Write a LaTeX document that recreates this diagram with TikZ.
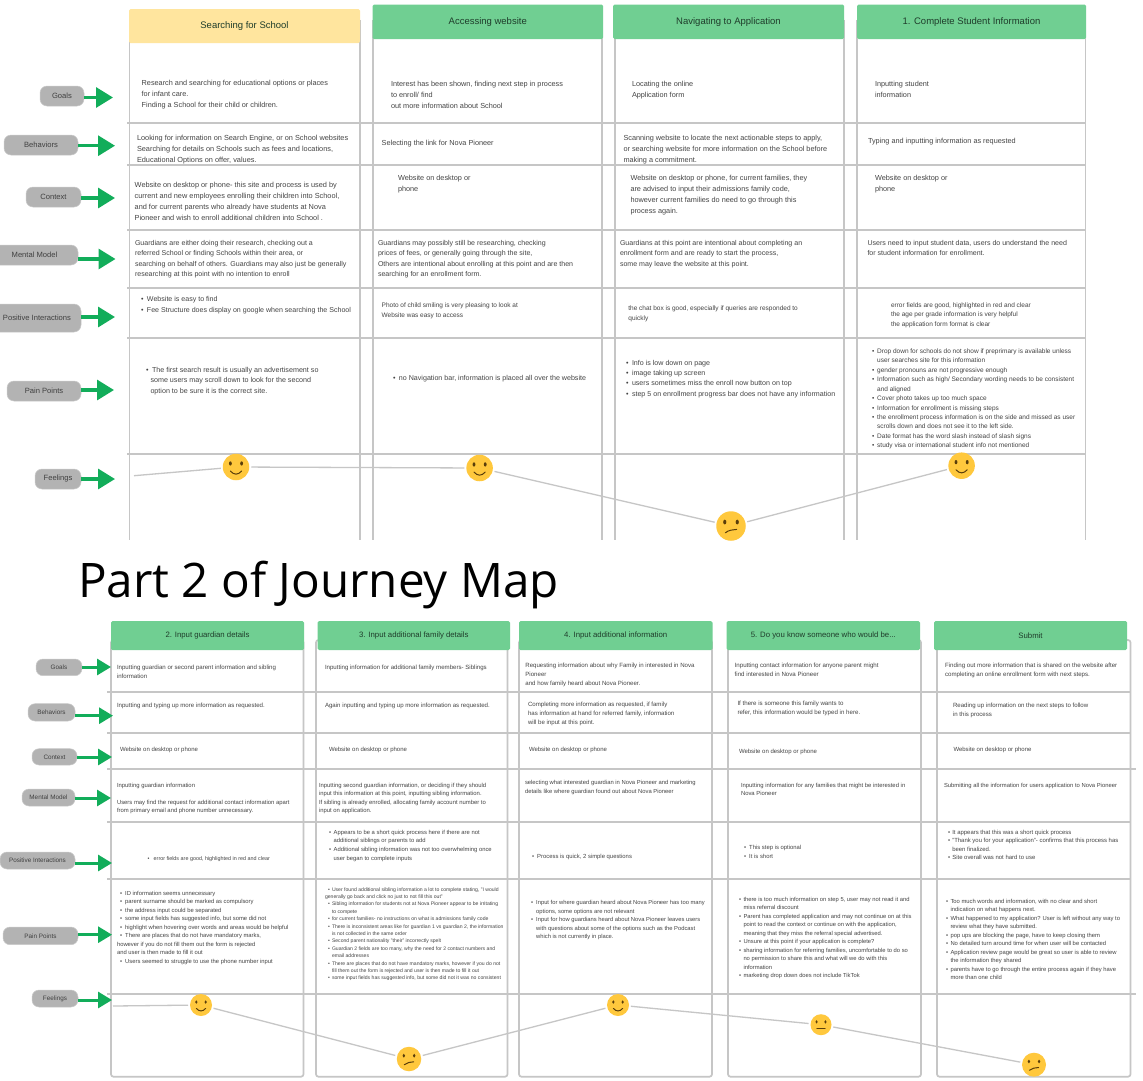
\documentclass[tikz,border=0pt]{standalone}
\usepackage{fontspec}
\setmainfont{Liberation Sans}
\newfontfamily\titlefont{Open Sans}
\usetikzlibrary{arrows.meta,shapes.geometric}
\definecolor{gridc}{HTML}{C6C6C6}
\definecolor{hgreen}{HTML}{70CF92}
\definecolor{hyellow}{HTML}{FFE59E}
\definecolor{agreen}{HTML}{12AD5A}
\definecolor{pillc}{HTML}{B3B3B3}
\definecolor{inkc}{HTML}{444444}
\definecolor{headink}{HTML}{1F3D2B}
\definecolor{facec}{HTML}{FFC83D}
\definecolor{facedark}{HTML}{5A3E0A}
\tikzset{
  gridline/.style={draw=gridc,line width=1.7pt},
  bodybox/.style={draw=gridc,line width=1.7pt,rounded corners=2.5pt},
  headbox/.style={rounded corners=1.5pt,inner sep=0pt,text=headink,anchor=center},
  txt/.style={anchor=north west,inner sep=0pt,outer sep=0pt,align=left,text=inkc},
  pillbox/.style={fill=pillc,draw=pillc!70,line width=0.5pt,rounded corners=7pt,inner sep=0pt,text=black!75,anchor=center},
  greenarrow/.style={draw=agreen,line width=3.2pt,-{Triangle[length=17pt,width=20pt]}},
  greenarrowb/.style={draw=agreen,line width=3pt,-{Triangle[length=14pt,width=16pt]}},
  feelline/.style={draw=gridc,line width=1.3pt},
  facenode/.style={ellipse,fill=facec,inner sep=0pt,outer sep=2pt},
  mouthline/.style={draw=facedark,line width=1pt,line cap=round}
}
\newcommand{\tx}[6]{\node[txt,font=\fontsize{#4}{#5}\selectfont,yshift=#4*0.4pt] (#1) at (#2,#3) {\rule{0pt}{0.8em}#6};}
\newcommand{\bl}{\makebox[5.2pt][l]{•}}
\newcommand{\ind}{\hspace*{5.2pt}}
\newcommand{\head}[8]{\node[headbox,fill=#2,minimum width=#5pt-#4pt,minimum height=#7pt-#6pt,font=\fontsize{#8}{#8}\selectfont] (#1) at ({(#4+#5)/2},{(#6+#7)/2}) {#3};}
\newcommand{\pill}[7]{\node[pillbox,minimum width=#4pt-#3pt,minimum height=#6pt-#5pt,font=\fontsize{#7}{#7}\selectfont] (#1) at ({(#3+#4)/2},{(#5+#6)/2}) {#2};}
\newcommand{\face}[5]{\node[facenode,minimum width=#4pt,minimum height=#4pt] (#1) at (#2,#3) {};
  \begin{scope}[shift={(#1.center)},scale=#4/26]
    \fill[facedark] (-5.5,-3.5) ellipse [x radius=1.4,y radius=2.1];
    \fill[facedark] (5.5,-3.5) ellipse [x radius=1.4,y radius=2.1];
    \draw[mouthline] #5;
  \end{scope}}
\newcommand{\faceS}[4]{\face{#1}{#2}{#3}{#4}{(-5.5,4) .. controls (-2,8) and (2,8) .. (5.5,4)}}
\newcommand{\faceN}[4]{\face{#1}{#2}{#3}{#4}{(-5,4.5) -- (5,4.5)}}
\newcommand{\faceC}[4]{\face{#1}{#2}{#3}{#4}{(-5,6) .. controls (-2,3.5) and (1,3.5) .. (5,3)}}
\begin{document}
\begin{tikzpicture}[x=1pt,y=-1pt]
\useasboundingbox (0,0) rectangle (1143,1080);
\fill[white] (0,0) rectangle (1143,1080);
\clip (0,0) rectangle (1143,1080);
% ---------- part 1 grid
\foreach \xx in {129.5,360,373,602,615,844,857}
  \draw[gridline] (\xx,20) -- (\xx,540);
\draw[draw=gridc,line width=0.9pt] (1085.6,20) -- (1085.6,540);
\foreach \yy in {122.7,165,230,288,338,453.7}
  \draw[gridline] (127,\yy) -- (1086,\yy);
% ---------- part 2 grid
\draw[bodybox] (111,640) rectangle (303.5,1076.7);
\draw[bodybox] (316,640) rectangle (507.5,1076.7);
\draw[bodybox] (519,640) rectangle (712,1076.7);
\draw[bodybox] (728,640) rectangle (921,1076.7);
\draw[bodybox] (937,640) rectangle (1130.5,1076.7);
\foreach \yy in {691.7,733,822,879.3}
  \draw[gridline] (107,\yy) -- (1130.5,\yy);
\foreach \yy in {769,994}
  \draw[gridline] (107,\yy) -- (1136,\yy);
% ---------- headers
\head{ha}{hyellow}{Searching for School}{129}{360}{9}{43}{9.5}
\head{hb}{hgreen}{Accessing website}{372.5}{603}{4.5}{39}{9.5}
\head{hc}{hgreen}{Navigating to Application}{613}{844}{4.5}{39}{9.5}
\head{hd}{hgreen}{1. Complete Student Information}{857}{1086}{4.5}{39}{9.5}
\head{he}{hgreen}{2. Input guardian details}{111}{304}{621}{650}{7.8}
\head{hf}{hgreen}{3. Input additional family details}{317.7}{510}{621}{650}{7.8}
\head{hg}{hgreen}{4. Input additional information}{519}{712.5}{621}{650}{7.8}
\head{hh}{hgreen}{5. Do you know someone who would be...}{726.6}{920}{621}{650}{7.8}
\head{hi}{hgreen}{Submit}{934}{1127}{621}{650}{7.8}
% ---------- title
\node[anchor=base west,inner sep=0pt,font=\titlefont\fontsize{47.6}{47.6}\selectfont,text=black] (title) at (78,597) {Part 2 of Journey Map};
% ---------- part 1 texts
\tx{aa}{141.7}{82.7}{7.3}{10.8}{Research and searching for educational options or places\\for infant care.\\Finding a School for their child or children.}
\tx{ab}{137}{138}{7.35}{10.8}{Looking for information on Search Engine, or on School websites\\Searching for details on Schools such as fees and locations,\\Educational Options on offer, values.}
\tx{ac}{134.7}{184.7}{7.35}{10.8}{Website on desktop or phone- this site and process is used by\\current and new  employees enrolling their children into School,\\and for current parents who already  have students at Nova\\Pioneer and wish to enroll additional children into School .}
\tx{ad}{135}{242.7}{7.05}{10.3}{Guardians are either doing their research, checking out a\\referred School or finding Schools within their area, or\\searching on behalf of others. Guardians may also just be generally\\researching at this point with no intention to enroll}
\tx{ae}{141}{299}{7.07}{10.3}{\makebox[6pt][l]{•}Website is easy to find\\\makebox[6pt][l]{•}Fee Structure does display on google when searching the School}
\tx{af}{146}{369.7}{7.15}{10.3}{\makebox[6pt][l]{•}The first search result is usually an advertisement so\\\hspace*{4.5pt}some users may scroll down to look for the second\\\hspace*{4.5pt}option to be sure it is the correct site.}
\tx{ba}{391}{84}{7.3}{10.8}{Interest has been shown, finding next step in process\\to enroll/ find\\out more information about School}
\tx{bb}{381.7}{143}{7.3}{10.8}{Selecting the link for Nova Pioneer}
\tx{bc}{398}{177.7}{7.3}{10.8}{Website on desktop or\\phone}
\tx{bd}{378}{242.7}{7.05}{10.3}{Guardians may possibly still be researching, checking\\prices of fees, or generally going through the site,\\Others are intentional about enrolling at this point and are then\\searching for an enrollment form.}
\tx{be}{381.7}{305}{6.5}{9.7}{Photo of child smiling is very pleasing to look at\\Website was easy to access}
\tx{bf}{393}{378}{7.1}{10.3}{\makebox[6pt][l]{•}no Navigation bar, information is placed all over the website}
\tx{ca}{632}{84}{7.3}{10.8}{Locating the online\\Application form}
\tx{cb}{623.5}{138}{7.3}{10.8}{Scanning website to locate the next actionable steps to apply,\\or searching website for more information on the School before\\making a commitment.}
\tx{cc}{630.5}{177.7}{7.3}{10.8}{Website on desktop or phone, for current families, they\\are advised to input their admissions family code,\\however current families do need to go through this\\process again.}
\tx{cd}{620}{242.7}{7.05}{10.3}{Guardians at this point are intentional about completing an\\enrollment form and are ready to start the process,\\some may leave the website at this point.}
\tx{ce}{628.4}{307.7}{6.5}{9.7}{the chat box is good, especially if queries are responded to\\quickly}
\tx{cf}{626}{362.3}{7.1}{10.3}{\makebox[6pt][l]{•}Info is low down on page\\\makebox[6pt][l]{•}image taking up screen\\\makebox[6pt][l]{•}users sometimes miss the enroll now button on top\\\makebox[6pt][l]{•}step 5 on enrollment progress bar does not have any information}
\tx{da}{875}{84}{7.3}{10.8}{Inputting student\\information}
\tx{db}{868}{140.7}{7.3}{10.8}{Typing and inputting information as requested}
\tx{dc}{875}{177.7}{7.3}{10.8}{Website on desktop or\\phone}
\tx{dd}{867.5}{242.7}{7.05}{10.3}{Users need to input student data, users do understand the need\\for student information for enrollment.}
\tx{de}{891}{304.7}{6.5}{9.6}{error fields are good, highlighted in red and clear\\the age per grade information is very helpful\\the application form format is clear}
\tx{df}{872}{350.7}{6.5}{9.45}{\bl Drop down for schools do not show if preprimary is available unless\\\ind user searches site for this information\\\bl gender pronouns are not progressive enough\\\bl Information such as high/ Secondary wording needs to be consistent\\\ind and aligned\\\bl Cover photo takes up too much space\\\bl Information for enrollment is missing steps\\\bl the enrollment process information is on the side and missed as user\\\ind scrolls down and does not see it to the left side.\\\bl Date format  has the word slash instead of slash signs\\\bl study visa or international student info not mentioned}
% ---------- part 2 texts
\tx{ea}{117}{667.3}{6.1}{9}{Inputting guardian or second parent information and sibling\\information}
\tx{eb}{117}{705}{6.1}{9}{Inputting and typing up more information as requested.}
\tx{ec}{120}{749}{6}{9}{Website on desktop or phone}
\tx{ed}{117}{784.7}{5.9}{8.55}{Inputting guardian information\\~\\Users may find the request for additional contact information apart\\from primary email and phone number unnecessary.}
\tx{ee}{147.7}{858}{5.4}{8.5}{\makebox[6pt][l]{•}error fields are good, highlighted in red and clear}
\tx{ef}{117}{893}{5.85}{8.5}{\hspace*{3pt}\bl ID information seems unnecessary\\\hspace*{3pt}\bl parent surname should be marked as compulsory\\\hspace*{3pt}\bl the address input could be separated\\\hspace*{3pt}\bl some input fields has suggested info, but some did not\\\hspace*{3pt}\bl  highlight when hovering over words and areas would be helpful\\\hspace*{3pt}\bl There are places that do not have mandatory marks,\\however if you do not fill them out the form is rejected\\and user is then made to fill it out\\\hspace*{3pt}\bl Users seemed to struggle to use the phone number input}
\tx{fa}{325}{667.3}{6.1}{9}{Inputting information for additional family members- Siblings}
\tx{fb}{325}{705}{6.1}{9}{Again inputting and typing up more information as requested.}
\tx{fc}{329}{749}{6}{9}{Website on desktop or phone}
\tx{fd}{319}{784.7}{5.9}{8.6}{Inputting second guardian information, or deciding if they should\\input this information at this point, inputting sibling information.\\If sibling is already enrolled, allocating family account number to\\input on application.}
\tx{fe}{329}{832}{5.85}{8.55}{\makebox[4.7pt][l]{•}Appears to be a short quick process here if there are not\\\hspace*{4.7pt}additional siblings or parents to add\\\makebox[4.7pt][l]{•}Additional sibling information was not too overwhelming once\\\hspace*{4.7pt}user began to complete inputs}
\tx{ff}{325}{889}{5.1}{7.4}{\hspace*{3pt}\makebox[4pt][l]{•}User found additional sibling information a lot to complete stating, "I would\\generally go back and click no just to not fill this out"\\\hspace*{3pt}\makebox[4pt][l]{•}Sibling information for students not at Nova Pioneer appear to be irritating\\\hspace*{7pt}to compete\\\hspace*{3pt}\makebox[4pt][l]{•}for current families- no instructions on what is admissions family code\\\hspace*{3pt}\makebox[4pt][l]{•}There is inconsistent areas like for guardian 1 vs guardian 2, the information\\\hspace*{7pt}is not collected in the same order\\\hspace*{3pt}\makebox[4pt][l]{•}Second parent nationality "their" incorrectly spelt\\\hspace*{3pt}\makebox[4pt][l]{•}Guardian 2 fields are too many, why the need for 2 contact numbers and\\\hspace*{7pt}email addresses\\\hspace*{3pt}\makebox[4pt][l]{•}There are places that do not have mandatory marks, however if you do not\\\hspace*{7pt}fill them out the form is rejected and user is then made to fill it out\\\hspace*{3pt}\makebox[4pt][l]{•}some input fields has suggested info, but some did not it was no consistent}
\tx{ga}{525.4}{665.3}{6.1}{9}{Requesting information about why Family in interested in Nova\\Pioneer\\and how family heard about Nova Pioneer.}
\tx{gb}{528}{703.7}{6.1}{9}{Completing more information as requested, if family\\has information at hand for referred family, information\\will be input at this point.}
\tx{gc}{529}{749}{6}{9}{Website on desktop or phone}
\tx{gd}{525}{782.3}{5.85}{8.7}{selecting what interested guardian in Nova Pioneer and marketing\\details like where guardian found out about Nova Pioneer}
\tx{ge}{532}{856.3}{5.9}{8.5}{\bl Process is quick, 2 simple questions}
\tx{gf}{531}{902.3}{5.8}{8.5}{\bl Input for where guardian heard about Nova Pioneer has too many\\\ind options, some options are not relevant\\\bl Input for how guardians heard about Nova Pioneer leaves users\\\ind with questions about some of the options such as the Podcast\\\ind which is not currently in place.}
\tx{ha2}{734.7}{665.3}{6.15}{9}{Inputting contact information for anyone parent might\\find interested in Nova Pioneer}
\tx{hb2}{737.5}{703}{6.15}{9}{If there is someone this family wants to\\refer, this information would be typed in here.}
\tx{hc2}{739}{751.3}{6}{9}{Website on desktop or phone}
\tx{hd2}{741}{784.7}{5.9}{8.7}{Inputting information for any families that might be interested in\\Nova Pioneer}
\tx{he2}{744}{847}{5.9}{8.7}{\bl This step is optional\\\bl It is short}
\tx{hf2}{739}{898.7}{5.8}{8.55}{\makebox[4.5pt][l]{•}there is too much information on step 5, user may not read it and\\\hspace*{4.5pt}miss referral discount\\\makebox[4.5pt][l]{•}Parent has completed application and may not continue on at this\\\hspace*{4.5pt}point to read the context or continue on with the application,\\\hspace*{4.5pt}meaning that they miss the referral special advertised.\\\makebox[4.5pt][l]{•}Unsure at this point if your application is complete?\\\makebox[4.5pt][l]{•}sharing information for referring families, uncomfortable to do so\\\hspace*{4.5pt}no permission to share this and what will we do with this\\\hspace*{4.5pt}information\\\makebox[4.5pt][l]{•}marketing drop down does not include TikTok}
\tx{ia}{945}{665.3}{6.15}{9}{Finding out more information that is shared on the website after\\completing an online enrollment form with next steps.}
\tx{ib}{953}{705}{6.1}{9}{Reading up information on the next steps to follow\\in this process}
\tx{ic}{953.5}{749}{6}{9}{Website on desktop or phone}
\tx{id}{944}{784.7}{5.85}{8.7}{Submitting all the information for users application to Nova Pioneer}
\tx{ie}{948}{832}{5.95}{8.5}{\makebox[4.3pt][l]{•}It appears that this was a short quick process\\\makebox[4.3pt][l]{•}"Thank you for your application"- confirms that this process has\\\hspace*{4.3pt}been finalized.\\\makebox[4.3pt][l]{•}Site overall was not hard to use}
\tx{if}{946}{901}{5.85}{8.5}{\makebox[4.5pt][l]{•}Too much words and information, with no clear and short\\\hspace*{4.5pt}indication on what happens next.\\\makebox[4.5pt][l]{•}What happened to my application? User is left without any way to\\\hspace*{4.5pt}review what they have submitted.\\\makebox[4.5pt][l]{•}pop ups are blocking the page, have to keep closing them\\\makebox[4.5pt][l]{•}No detailed turn around time for when user will be contacted\\\makebox[4.5pt][l]{•}Application review page would be great so user is able to review\\\hspace*{4.5pt}the information they shared\\\makebox[4.5pt][l]{•}parents have to go through the entire process again if they have\\\hspace*{4.5pt}more than one child}
% ---------- part 1 labels and arrows
\pill{pa}{Goals}{40}{84}{86}{106}{7.6}
\pill{pb}{Behaviors}{4}{78}{135}{155}{7.6}
\pill{pc}{Context}{26}{81}{187}{207}{7.6}
\pill{pd}{Mental Model}{-9}{78}{245}{265}{7.6}
\pill{pe}{Positive Interactions}{-7}{81}{304}{332}{7.6}
\pill{pf}{Pain Points}{7}{81}{381}{401}{7.6}
\pill{pg}{Feelings}{35}{81}{469}{489}{7.6}
\coordinate (ta) at (113,97.5);
\coordinate (tb) at (115,145.7);
\coordinate (tc) at (115,198);
\coordinate (td) at (115.5,259);
\coordinate (te) at (115,317);
\coordinate (tf) at (114,390);
\coordinate (tg) at (115,479);
\foreach \pp/\qq in {pa/ta,pb/tb,pc/tc,pd/td,pe/te,pf/tf,pg/tg}
  \draw[greenarrow] (\pp.east |- \qq) -- (\qq);
% ---------- part 2 labels and arrows
\pill{qa}{Goals}{36}{82}{659}{675.7}{6.35}
\pill{qb}{Behaviors}{28}{75}{703.7}{721}{6.35}
\pill{qc}{Context}{32}{77}{748.7}{765}{6.35}
\pill{qd}{Mental Model}{22}{75}{789}{806}{6.35}
\pill{qe}{Positive Interactions}{0}{75}{852}{869}{6.35}
\pill{qf}{Pain Points}{3}{78}{927}{944.7}{6.35}
\pill{qg}{Feelings}{32}{78}{990}{1007}{6.35}
\coordinate (ua) at (111,667);
\coordinate (ub) at (113,715.7);
\coordinate (uc) at (112,757);
\coordinate (ud) at (111,798);
\coordinate (ue) at (112,863);
\coordinate (uf) at (112,934.7);
\coordinate (ug) at (112,1000);
\foreach \pp/\qq in {qa/ua,qb/ub,qc/uc,qd/ud,qe/ue,qf/uf,qg/ug}
  \draw[greenarrowb] (\pp.east |- \qq) -- (\qq);
% ---------- feelings part 1
\faceS{sa}{236}{467}{26.5}
\faceS{sb}{479.6}{468}{26.5}
\faceC{sc}{731}{526}{29.5}
\faceS{sd}{961.6}{465.7}{26.5}
\coordinate (ss) at (134,475.7);
\draw[feelline] (ss) -- (sa);
\draw[feelline] (sa) -- (sb);
\draw[feelline] (sb) -- (sc);
\draw[feelline] (sc) -- (sd);
% ---------- feelings part 2
\faceS{ra}{201}{1005}{22}
\faceC{rb}{409}{1059}{24.5}
\faceS{rc}{618}{1005}{22}
\faceN{rd}{821}{1024.7}{21}
\faceC{re}{1034}{1064.7}{24}
\coordinate (rs) at (113,1006);
\draw[feelline] (rs) -- (ra);
\draw[feelline] (ra) -- (rb);
\draw[feelline] (rb) -- (rc);
\draw[feelline] (rc) -- (rd);
\draw[feelline] (rd) -- (re);
\end{tikzpicture}
\end{document}
